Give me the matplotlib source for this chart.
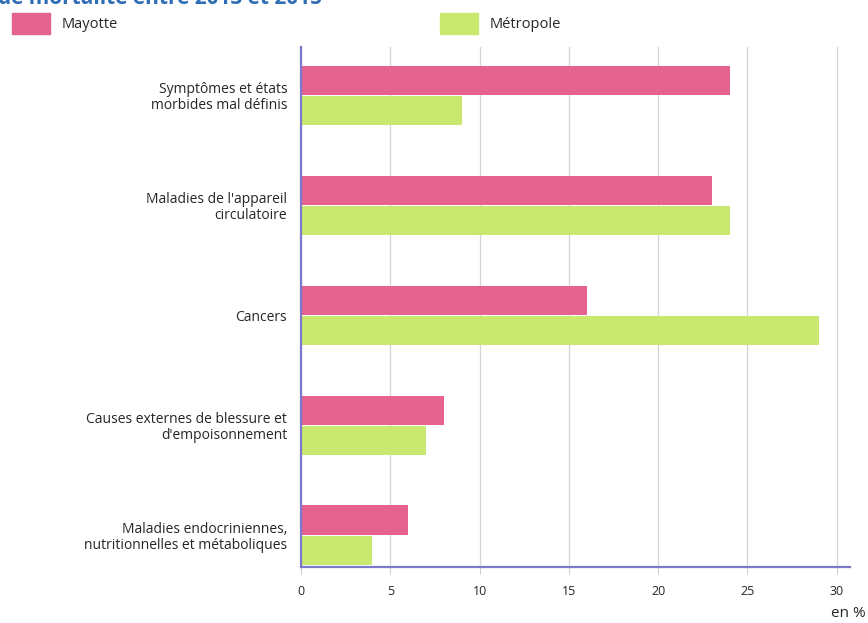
import matplotlib.pyplot as plt
import matplotlib.patches as patches
import numpy as np

plt.rcParams['font.family'] = ['Open Sans', 'DejaVu Sans']

# Causes de décès, part en %
categories = [
    "Symptômes et états\nmorbides mal définis",
    "Maladies de l'appareil\ncirculatoire",
    "Cancers",
    "Causes externes de blessure et\nd'empoisonnement",
    "Maladies endocriniennes,\nnutritionnelles et métaboliques",
]
mayotte = [24, 23, 16, 8, 6]
metropole = [9, 24, 29, 7, 4]
x_ticks = [0, 5, 10, 15, 20, 25, 30]

PINK = '#e5638e'
GREEN = '#c9e86f'
AXIS = '#7b79c9'
TEXT = '#262626'

fig = plt.figure(figsize=(8.68, 6.23), dpi=100)
ax = fig.add_axes([0.3468, 0.0899, 0.6325, 0.8347])

pos = np.arange(len(categories))
h = 0.265
ax.barh(pos - 0.137, mayotte, height=h, color=PINK, zorder=3)
ax.barh(pos + 0.141, metropole, height=h, color=GREEN, zorder=3)

ax.set_xlim(0, 30.75)
ax.set_ylim(4.29, -0.44)

ax.set_yticks(pos)
ax.set_yticklabels(categories, fontsize=10, color=TEXT, linespacing=1.1)
ax.tick_params(axis='y', length=0, pad=10)

ax.set_xticks(x_ticks)
ax.set_xticklabels([str(t) for t in x_ticks], fontsize=9, color=TEXT)
ax.tick_params(axis='x', length=5, color='#cfcfcf', pad=8, direction='out')

ax.grid(axis='x', color='#d4d4d4', linewidth=0.9, zorder=0)

for side in ('top', 'right'):
    ax.spines[side].set_visible(False)
for side in ('left', 'bottom'):
    ax.spines[side].set_color(AXIS)
    ax.spines[side].set_linewidth(1.6)
    ax.spines[side].set_zorder(4)

fig.text(0.997, 0.004, "en %", ha='right', va='bottom', fontsize=11, color=TEXT)

# legend along the top
fig.patches.append(patches.Rectangle((12 / 868, 1 - 34 / 623), 38 / 868, 21 / 623,
                                     transform=fig.transFigure, color=PINK))
fig.text(62 / 868, 1 - 24 / 623, "Mayotte", va='center', fontsize=10.5, color=TEXT)
fig.patches.append(patches.Rectangle((440 / 868, 1 - 34 / 623), 38 / 868, 21 / 623,
                                     transform=fig.transFigure, color=GREEN))
fig.text(490 / 868, 1 - 24 / 623, "Métropole", va='center', fontsize=10.5, color=TEXT)

# title, cut by the top edge
fig.text(-0.002, 1.003, "de mortalité entre 2013 et 2015", va='center', ha='left',
         fontsize=15, color='#2f6db5', fontweight='bold')

fig.savefig('out.png', dpi=100)
